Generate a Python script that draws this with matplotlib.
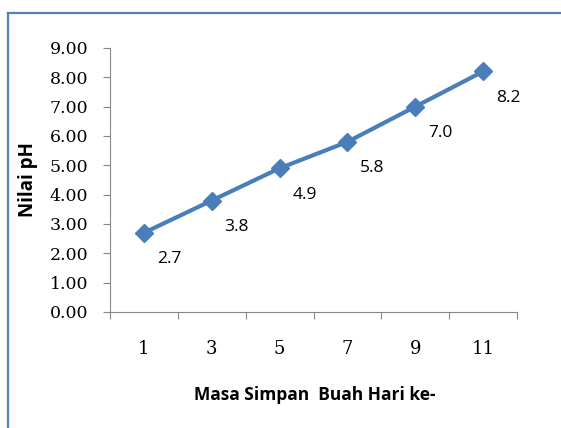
import matplotlib
matplotlib.use("Agg")
import matplotlib.pyplot as plt
from matplotlib.lines import Line2D
import numpy as np

categories = ["1", "3", "5", "7", "9", "11"]
values = [2.7, 3.8, 4.9, 5.8, 7.0, 8.2]
y_ticks = [0, 1, 2, 3, 4, 5, 6, 7, 8, 9]

W, H = 561, 428
fig = plt.figure(figsize=(W / 100, H / 100), dpi=100)
ax = fig.add_axes([110 / W, 1 - 312 / H, (517 - 110) / W, (312 - 48) / H])

x = np.arange(len(categories)) + 0.5
blue = "#4A7EBB"
ax.plot(x, values, color=blue, lw=3, marker="D", markersize=9, zorder=3)
for xi, v in zip(x, values):
    ax.annotate(f"{v:.1f}", (xi, v), xytext=(18, -19), textcoords="offset points",
                ha="center", va="center", fontsize=12.5, family="Open Sans", color="black")

ax.set_xlim(0, len(categories))
ax.set_ylim(0, 9)
ax.set_xticks(np.arange(len(categories) + 1))
ax.set_xticklabels([])
ax.set_xticks(x, minor=True)
ax.set_xticklabels(categories, minor=True, fontsize=13, family="DejaVu Serif")
ax.tick_params(axis="x", which="minor", length=0, pad=20)
ax.tick_params(axis="x", which="major", length=5, color="#888888", direction="out")
ax.set_yticks(y_ticks)
ax.set_yticklabels([f"{t:.2f}" for t in y_ticks], fontsize=12.5, family="DejaVu Serif")
ax.tick_params(axis="y", length=5, color="#888888", direction="out", pad=10.5)

for s in ["top", "right"]:
    ax.spines[s].set_visible(False)
for s in ["left", "bottom"]:
    ax.spines[s].set_color("#888888")
    ax.spines[s].set_linewidth(0.8)

fig.text(315 / W, 1 - 395 / H, "Masa Simpan  Buah Hari ke-", ha="center", va="center",
         fontsize=12.5, fontweight="bold", family="Open Sans")
fig.text(28 / W, 1 - 180 / H, "Nilai pH", ha="center", va="center", rotation=90,
         fontsize=13.5, fontweight="bold", family="Open Sans")

frame = "#4F81BD"
fig.add_artist(Line2D([8 / W, 8 / W], [0, 1 - 13 / H], transform=fig.transFigure,
                      color=frame, lw=1.6))
fig.add_artist(Line2D([8 / W, 1], [1 - 13 / H, 1 - 13 / H], transform=fig.transFigure,
                      color=frame, lw=1.6))

fig.savefig("out.png", dpi=100)
